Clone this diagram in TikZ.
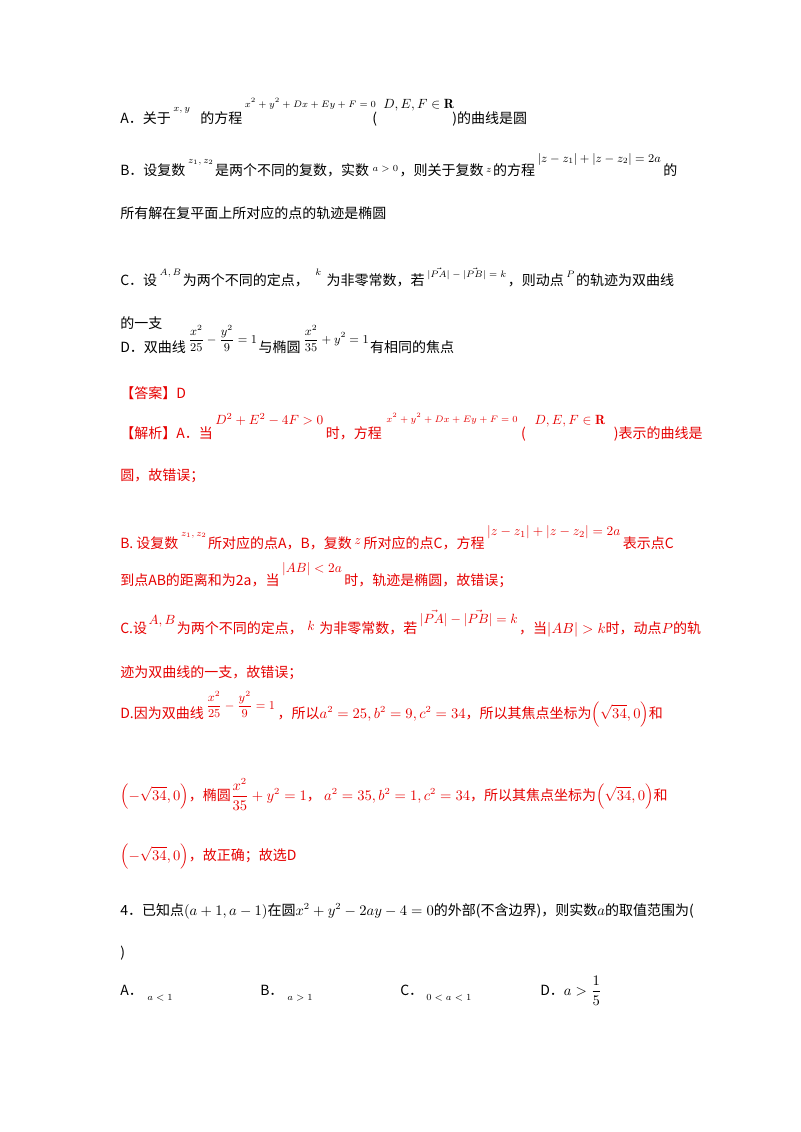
\documentclass[tikz,border=0pt]{standalone}
\usepackage{fontspec}
\usepackage{amsmath,amssymb}
\newfontfamily\cjk{Noto Sans CJK SC}
\definecolor{ansred}{RGB}{230,0,0}
\begin{document}
\begin{tikzpicture}[x=0.75pt,y=-0.75pt,
  t/.style={anchor=base west,inner sep=0pt,font=\fontsize{10.5}{12}\selectfont\cjk},
  r/.style={t,text=ansred},
  s/.style={anchor=base west,inner sep=0pt,font=\fontsize{7.5}{8}\selectfont},
  m/.style={anchor=base west,inner sep=0pt}]
\useasboundingbox[fill=white] (0,0) rectangle (800,1132);
% A
\node[t] (a1) at (120,123) {A．关于};
\node[s] (a2) at ([shift={(2,-12)}]a1.base east) {$x,y$};
\node[t] (a3) at (200,123) {的方程};
\node[s] (a4) at ([shift={(2,-16)}]a3.base east) {$x^2+y^2+Dx+Ey+F=0$};
\node[t] (a5) at (372,123) {(};
\node[m] (a6) at (383,108) {$D,E,F\in\mathbf{R}$};
\node[t] (a7) at (452,123) {)的曲线是圆};
% B
\node[t] (b1) at (120,175) {B．设复数};
\node[s] (b2) at ([shift={(2,-12)}]b1.base east) {$z_1,z_2$};
\node[t] (b3) at ([shift={(1,12)}]b2.base east) {是两个不同的复数，实数};
\node[s] (b4) at ([shift={(3,-4)}]b3.base east) {$a>0$};
\node[t] (b5) at ([shift={(1,4)}]b4.base east) {，则关于复数};
\node[s] (b6) at ([shift={(2,-3)}]b5.base east) {$z$};
\node[t] (b7) at ([shift={(1,3)}]b6.base east) {的方程};
\node[m,font=\small] (b8) at ([shift={(2,-13)}]b7.base east) {$|z-z_1|+|z-z_2|=2a$};
\node[t] (b9) at ([shift={(2,13)}]b8.base east) {的};
\node[t] (b10) at (120,218) {所有解在复平面上所对应的点的轨迹是椭圆};
% C
\node[t] (c1) at (120,285) {C．设};
\node[s] (c2) at ([shift={(2,-10)}]c1.base east) {$A,B$};
\node[t] (c3) at ([shift={(1,10)}]c2.base east) {为两个不同的定点，};
\node[s] (c4) at ([shift={(6,-10)}]c3.base east) {$k$};
\node[t] (c5) at ([shift={(5,10)}]c4.base east) {为非零常数，若};
\node[s] (c6) at ([shift={(2,-8)}]c5.base east) {$|\vec{PA}|-|\vec{PB}|=k$};
\node[t] (c7) at ([shift={(1,8)}]c6.base east) {，则动点};
\node[s] (c8) at ([shift={(2,-8)}]c7.base east) {$P$};
\node[t] (c9) at ([shift={(1,8)}]c8.base east) {的轨迹为双曲线};
\node[t] (c10) at (120,328) {的一支};
% D
\node[t] (d1) at (120,352) {D．双曲线};
\node[m,font=\small] (d2) at ([shift={(2,-9)}]d1.base east) {$\dfrac{x^2}{25}-\dfrac{y^2}{9}=1$};
\node[t] (d3) at ([shift={(1,9)}]d2.base east) {与椭圆};
\node[m,font=\small] (d4) at ([shift={(2,-9)}]d3.base east) {$\dfrac{x^2}{35}+y^2=1$};
\node[t] (d5) at ([shift={(1,9)}]d4.base east) {有相同的焦点};
% answer
\node[r] (e1) at (120,398) {【答案】D};
\node[r] (f1) at (120,438) {【解析】A．当};
\node[m,text=ansred] (f2) at (215,424) {$D^2+E^2-4F>0$};
\node[r] (f3) at ([shift={(2,14)}]f2.base east) {时，方程};
\node[s,text=ansred] (f4) at ([shift={(4,-16)}]f3.base east) {$x^2+y^2+Dx+Ey+F=0$};
\node[r] (f5) at ([shift={(3,16)}]f4.base east) {(};
\node[m,text=ansred] (f6) at ([shift={(8,-14)}]f5.base east) {$D,E,F\in\mathbf{R}$};
\node[r] (f7) at ([shift={(8,14)}]f6.base east) {)表示的曲线是};
\node[r] (f8) at (120,480) {圆，故错误；};
\node[r] (g1) at (120,548) {B. 设复数};
\node[s,text=ansred] (g2) at ([shift={(2,-12)}]g1.base east) {$z_1,z_2$};
\node[r] (g3) at ([shift={(1,12)}]g2.base east) {所对应的点\textit{A}，\textit{B}，复数};
\node[m,text=ansred] (g4) at ([shift={(2,-4)}]g3.base east) {$z$};
\node[r] (g5) at ([shift={(2,4)}]g4.base east) {所对应的点\textit{C}，方程};
\node[m,text=ansred] (g6) at ([shift={(2,-13)}]g5.base east) {$|z-z_1|+|z-z_2|=2a$};
\node[r] (g7) at ([shift={(2,13)}]g6.base east) {表示点\textit{C}};
\node[r] (g8) at (120,585) {到点AB的距离和为2\textit{a}，当};
\node[m,text=ansred] (g9) at ([shift={(2,-13)}]g8.base east) {$|AB|<2a$};
\node[r] (g10) at ([shift={(2,13)}]g9.base east) {时，轨迹是椭圆，故错误；};
\node[r] (h1) at (120,633) {C.设};
\node[m,text=ansred] (h2) at ([shift={(1,-9)}]h1.base east) {$A,B$};
\node[r] (h3) at ([shift={(1,9)}]h2.base east) {为两个不同的定点，};
\node[m,text=ansred] (h4) at ([shift={(4,-3)}]h3.base east) {$k$};
\node[r] (h5) at ([shift={(4,3)}]h4.base east) {为非零常数，若};
\node[m,text=ansred] (h6) at ([shift={(2,-10)}]h5.base east) {$|\vec{PA}|-|\vec{PB}|=k$};
\node[r] (h7) at ([shift={(1,10)}]h6.base east) {，当$|AB|>k$时，动点$P$的轨};
\node[r] (h8) at (120,677) {迹为双曲线的一支，故错误；};
\node[r] (i1) at (120,718) {D.因为双曲线};
\node[m,font=\small,text=ansred] (i2) at ([shift={(2,-9)}]i1.base east) {$\dfrac{x^2}{25}-\dfrac{y^2}{9}=1$};
\node[r] (i3) at ([shift={(2,9)}]i2.base east) {，所以$a^2=25,b^2=9,c^2=34$，所以其焦点坐标为$\left(\sqrt{34},0\right)$和};
\node[r] (i4) at (120,800) {$\left(-\sqrt{34},0\right)$，椭圆$\dfrac{x^2}{35}+y^2=1$，\ $a^2=35,b^2=1,c^2=34$，所以其焦点坐标为$\left(\sqrt{34},0\right)$和};
\node[r] (i5) at (120,860) {$\left(-\sqrt{34},0\right)$，故正确；故选D};
% Q4
\node[t] (q1) at (120,915) {4．已知点$\left(a+1,a-1\right)$在圆$x^2+y^2-2ay-4=0$的外部(不含边界)，则实数$a$的取值范围为(};
\node[t] (q2) at (120,957) {)};
\node[t] (o1) at (120,995) {A．};
\node[s] (o1b) at (147,1000) {$a<1$};
\node[t] (o2) at (260,995) {B．};
\node[s] (o2b) at (287,1000) {$a>1$};
\node[t] (o3) at (400,995) {C．};
\node[s] (o3b) at (426,1000) {$0<a<1$};
\node[t] (o4) at (540,995) {D．$a>\dfrac{1}{5}$};
\end{tikzpicture}
\end{document}
